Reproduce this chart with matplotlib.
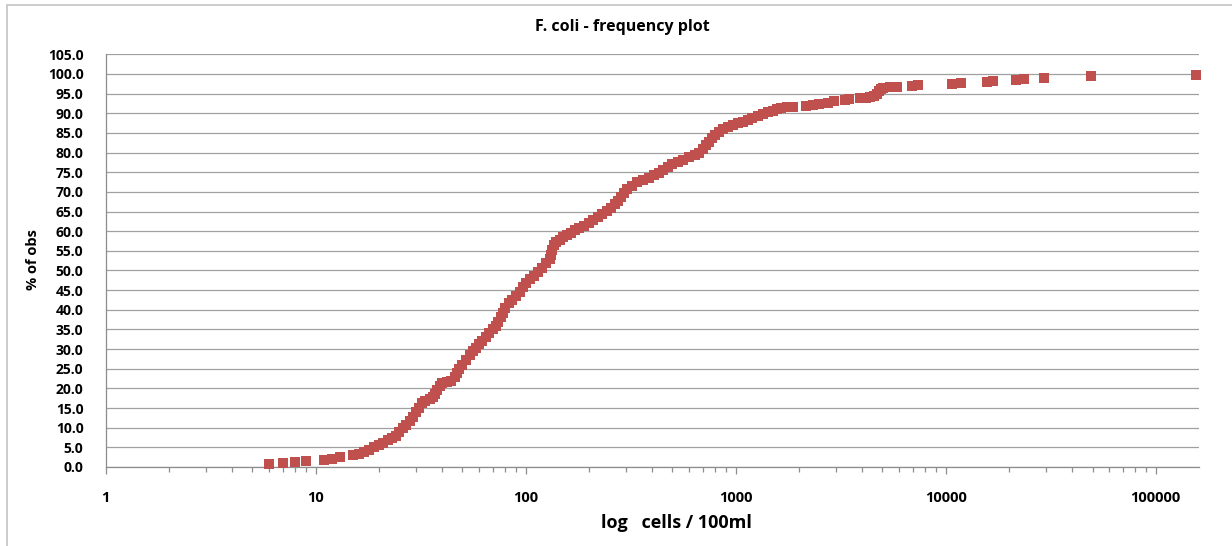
import matplotlib
matplotlib.use("Agg")
import matplotlib.pyplot as plt
from matplotlib.patches import Rectangle
from matplotlib.ticker import FixedLocator, LogLocator, FuncFormatter, NullFormatter

# cells / 100ml for each observation (sorted)
cells = [6, 7, 8, 9, 11, 12, 13, 15, 16, 17, 18, 19, 20, 21, 22, 23, 24, 25,
         26, 27, 28, 29, 30, 31, 32, 33, 35, 36, 37, 38, 39, 40, 42, 44, 46,
         47, 48, 50, 52, 54, 56, 58, 60, 62, 65, 67, 70, 72, 74, 76, 78, 80,
         83, 86, 90, 94, 97, 100, 105, 110, 115, 120, 125, 130, 132, 134, 136,
         140, 145, 150, 158, 165, 172, 180, 190, 200, 210, 220, 232, 245, 255,
         265, 275, 285, 295, 305, 320, 340, 360, 385, 410, 430, 450, 475, 500,
         530, 560, 600, 640, 670, 700, 725, 750, 775, 800, 830, 870, 920, 970,
         1020, 1080, 1140, 1200, 1270, 1350, 1430, 1500, 1570, 1650, 1760,
         1880, 2160, 2330, 2500, 2760, 2950, 3300, 3450, 3900, 4150, 4350,
         4550, 4700, 4800, 4900, 5050, 5430, 5870, 6930, 7390, 10740, 11830,
         15740, 16820, 21630, 23600, 29500, 49200, 155600]

# cumulative % of observations
pct_obs = [0.7, 1.1, 1.3, 1.5, 1.8, 2.1, 2.5, 3.0, 3.4, 3.9, 4.3, 5.0, 5.6,
           6.2, 6.9, 7.4, 8.0, 8.8, 10.0, 10.6, 11.6, 12.8, 14.0, 15.0, 16.2,
           16.8, 17.4, 17.9, 18.6, 19.6, 20.6, 21.3, 21.6, 22.0, 22.8, 23.8,
           24.9, 26.0, 27.2, 28.4, 29.4, 30.4, 31.2, 32.0, 33.0, 34.0, 35.0,
           36.0, 37.0, 38.2, 39.3, 40.4, 41.6, 42.6, 43.6, 44.6, 45.8, 46.8,
           47.8, 48.6, 49.6, 50.6, 51.8, 52.8, 54.0, 55.2, 56.5, 57.2, 57.8,
           58.4, 59.0, 59.6, 60.2, 60.8, 61.4, 62.0, 62.8, 63.6, 64.4, 65.2,
           66.0, 66.8, 67.8, 68.8, 69.8, 70.8, 71.6, 72.4, 73.0, 73.6, 74.3,
           74.8, 75.6, 76.4, 77.0, 77.6, 78.2, 78.8, 79.4, 80.0, 81.0, 82.0,
           82.8, 83.6, 84.4, 85.2, 86.0, 86.5, 87.0, 87.4, 87.9, 88.4, 88.8,
           89.3, 89.7, 90.2, 90.7, 91.1, 91.4, 91.6, 91.7, 91.9, 92.1, 92.3,
           92.7, 93.1, 93.5, 93.7, 93.9, 94.0, 94.2, 94.5, 95.0, 95.6, 96.1,
           96.4, 96.6, 96.8, 97.0, 97.1, 97.4, 97.6, 97.9, 98.1, 98.4, 98.7,
           99.1, 99.4, 99.7]

decades = [1, 10, 100, 1000, 10000, 100000]
y_ticks = list(range(0, 106, 5))

plt.rcParams['font.family'] = ['Open Sans', 'DejaVu Sans']

fig = plt.figure(figsize=(12.32, 5.46), dpi=100)
ax = fig.add_axes([0.0858, 0.1447, 0.9732 - 0.0858, 0.9005 - 0.1447])

# light chart border
fig.patches.append(Rectangle((7 / 1232, -0.1), 1.2, 1 - 5 / 546 + 0.1,
                             transform=fig.transFigure, fill=False,
                             edgecolor='#c4c4c4', lw=1.2))

ax.plot(cells, pct_obs, 's', color='#c0504d', markersize=6.6,
        markeredgewidth=0, zorder=3, clip_on=False)

ax.set_xscale('log')
ax.set_xlim(1, 160700)
ax.set_ylim(0, 105)

ax.xaxis.set_major_locator(FixedLocator(decades))
ax.xaxis.set_major_formatter(FuncFormatter(lambda v, p: '%d' % v))
ax.xaxis.set_minor_locator(LogLocator(base=10, subs=range(2, 10)))
ax.xaxis.set_minor_formatter(NullFormatter())
ax.set_yticks(y_ticks)
ax.yaxis.set_major_formatter(FuncFormatter(lambda v, p: '%.1f' % v))

ax.grid(axis='y', color='#a0a0a0', lw=0.9)
ax.set_axisbelow(True)
for s in ['top', 'right']:
    ax.spines[s].set_visible(False)
for s in ['left', 'bottom']:
    ax.spines[s].set_color('#8c8c8c')
    ax.spines[s].set_linewidth(0.9)

ax.tick_params(axis='x', which='major', length=5, width=0.9, color='#8c8c8c',
               pad=12, labelsize=10.5)
ax.tick_params(axis='x', which='minor', length=3.5, width=0.9, color='#8c8c8c')
ax.tick_params(axis='y', length=0, pad=16, labelsize=10)
for lab in ax.get_xticklabels() + ax.get_yticklabels():
    lab.set_fontweight('bold')

fig.text(622 / 1232, 1 - 27 / 546, 'F. coli - frequency plot', ha='center',
         va='center', fontsize=11.5, fontweight='bold')
fig.text(676 / 1232, 1 - 523 / 546, 'log   cells / 100ml', ha='center',
         va='center', fontsize=13, fontweight='bold')
fig.text(33 / 1232, 1 - 260 / 546, '% of obs', ha='center', va='center',
         rotation=90, fontsize=10.5, fontweight='bold')

fig.savefig('out.png', dpi=100)
